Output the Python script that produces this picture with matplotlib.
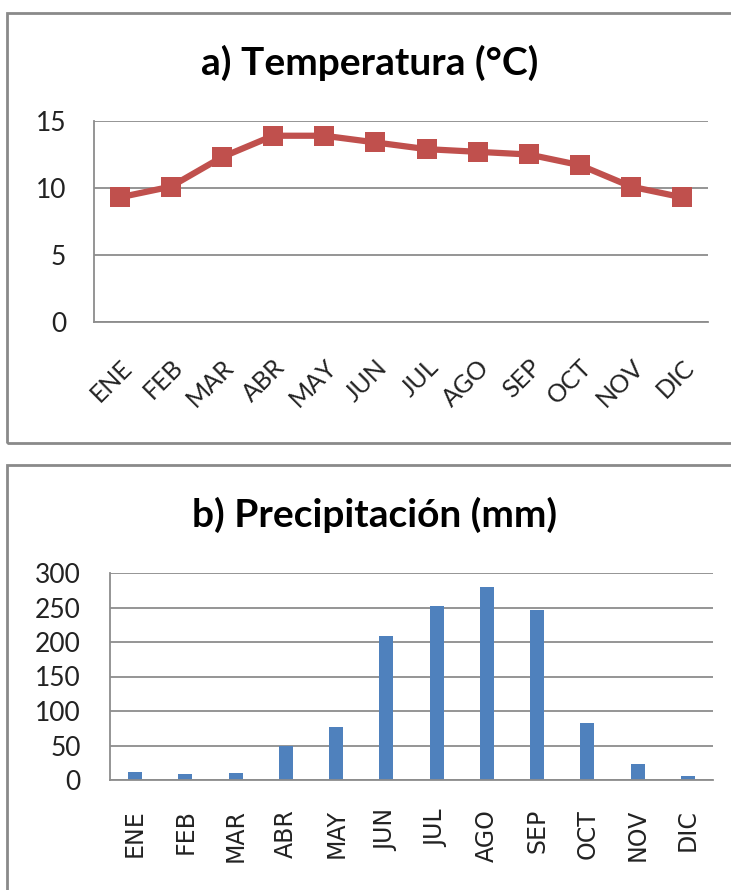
import matplotlib.pyplot as plt
from matplotlib.patches import Rectangle

meses = ['ENE', 'FEB', 'MAR', 'ABR', 'MAY', 'JUN', 'JUL', 'AGO', 'SEP', 'OCT', 'NOV', 'DIC']
temperatura = [9.3, 10.1, 12.3, 13.9, 13.9, 13.4, 12.9, 12.7, 12.5, 11.7, 10.1, 9.3]
precipitacion = [11, 8, 10, 50, 77, 208, 252, 280, 247, 82, 23, 6]

plt.rcParams['font.family'] = ['Lato', 'DejaVu Sans']

W, H = 731, 890
fig = plt.figure(figsize=(W / 100, H / 100), dpi=100)
grid_color = '#8c8c8c'


def px_axes(left, top, right, bottom):
    return fig.add_axes([left / W, 1 - bottom / H, (right - left) / W, (bottom - top) / H])


def style(ax, ymax, step, ypad, xpad, xsize):
    ax.set_xlim(-0.5, len(meses) - 0.5)
    ax.set_ylim(0, ymax)
    ax.set_yticks(range(0, ymax + 1, step))
    ax.set_xticks(range(len(meses)))
    ax.grid(axis='y', color=grid_color, linewidth=1.3)
    ax.set_axisbelow(True)
    for s in ['top', 'right']:
        ax.spines[s].set_visible(False)
    for s in ['left', 'bottom']:
        ax.spines[s].set_color(grid_color)
        ax.spines[s].set_linewidth(1.3)
    ax.tick_params(length=0, colors='#222222')
    ax.tick_params(axis='y', labelsize=19, pad=ypad)
    ax.tick_params(axis='x', labelsize=xsize, pad=xpad)


# panel frames
fig.patches.append(Rectangle((7 / W, 1 - 443 / H), 740 / W, 430 / H, transform=fig.transFigure,
                             fill=False, edgecolor='#8a8a8a', linewidth=2))
fig.patches.append(Rectangle((7 / W, -0.05), 740 / W, (0.05 + 1 - 465 / H), transform=fig.transFigure,
                             fill=False, edgecolor='#8a8a8a', linewidth=2))

# a) temperatura
ax1 = px_axes(94, 121, 708, 322)
style(ax1, 15, 5, 20, 24, 18)
ax1.plot(range(len(meses)), temperatura, color='#C0504D', linewidth=4.5,
         marker='s', markersize=14, markeredgewidth=0)
ax1.set_xticklabels(meses, rotation=45, ha='right', rotation_mode='anchor')
fig.text(370 / W, 1 - 75 / H, 'a) Temperatura (°C)', ha='center', va='baseline',
         fontsize=28, fontweight='bold')

# b) precipitacion
ax2 = px_axes(110, 573, 713, 780)
style(ax2, 300, 50, 21, 21, 17)
ax2.bar(range(len(meses)), precipitacion, width=0.28, color='#4F81BD')
ax2.set_xticklabels(meses, rotation=90, fontfamily='DejaVu Sans')
fig.text(375 / W, 1 - 527 / H, 'b) Precipitación (mm)', ha='center', va='baseline',
         fontsize=28, fontweight='bold')

fig.savefig('out.png', dpi=100)
